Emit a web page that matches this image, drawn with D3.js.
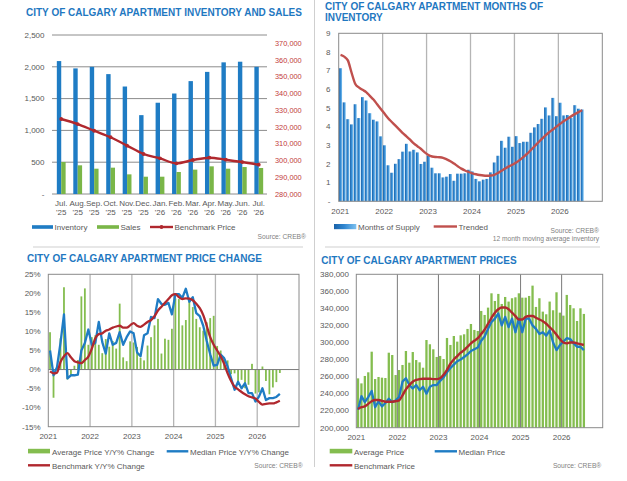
<!DOCTYPE html>
<html><head><meta charset="utf-8">
<script src="https://cdn.jsdelivr.net/npm/d3@7"></script>
<style>body{margin:0;background:#fff;} svg{display:block;font-family:"Liberation Sans",Arial,sans-serif;}</style>
</head><body><svg id="c" width="627" height="481"></svg>
<script>
// ---------- Panel 1: inventory and sales ----------
const invCategories = ["Jul. '25","Aug. '25","Sep. '25","Oct. '25","Nov. '25","Dec. '25","Jan. '26","Feb. '26","Mar. '26","Apr. '26","May. '26","Jun. '26","Jul. '26"];
const inventory = [2090,1975,2000,1885,1690,1240,1435,1580,1775,1920,2070,2080,2000];
const sales = [503,451,398,414,309,272,272,346,383,435,398,424,409];
const benchmarkPrice = [324800,321800,317800,313900,308900,303900,301300,298300,300300,301700,300500,299100,297500];
const invLeftTicks = [0,500,1000,1500,2000,2500];
const invRightTicks = [280000,290000,300000,310000,320000,330000,340000,350000,360000,370000];

// ---------- Panel 2: months of supply (monthly Jan 2021 - Jul 2026) ----------
const yearLabels = ["2021","2022","2023","2024","2025","2026"];
const monthsOfSupply = [
 7.13,5.30,4.40,4.12,5.20,4.46,5.58,5.40,4.72,4.37,4.28,3.48,
 3.00,1.93,1.53,2.01,2.26,2.66,3.08,2.67,2.76,2.62,2.00,2.12,
 2.44,1.80,1.50,1.50,1.28,1.32,1.46,1.10,1.48,1.48,1.50,1.69,
 1.60,1.20,1.07,1.16,1.20,1.55,2.08,2.44,3.24,2.87,3.46,2.92,
 3.49,3.12,3.19,3.19,3.67,3.96,4.14,4.42,5.03,4.60,5.54,4.56,
 5.28,4.60,4.62,4.46,5.15,4.96,4.92];
const trended = [
 7.84,7.75,7.55,6.90,6.30,6.10,5.97,5.85,5.65,5.45,5.20,4.95,
 4.70,4.45,4.25,4.05,3.85,3.65,3.48,3.30,3.10,2.95,2.80,2.62,
 2.48,2.40,2.37,2.36,2.33,2.25,2.15,2.02,1.88,1.75,1.65,1.57,
 1.50,1.45,1.41,1.38,1.37,1.38,1.42,1.52,1.64,1.76,1.87,1.97,
 2.08,2.22,2.38,2.55,2.75,2.95,3.15,3.35,3.53,3.70,3.85,4.00,
 4.15,4.30,4.42,4.55,4.67,4.78,4.88];
const supplyTicks = [0,1,2,3,4,5,6,7,8,9];

// ---------- Panel 3: price change Y/Y % ----------
const avgYoY = [
 9.8,-7.4,0.5,8.2,21.6,-2.6,-1.5,1.0,2.5,19.2,21.3,6.5,
 8.5,9.0,6.5,4.3,8.0,6.0,7.5,5.5,17.3,3.2,2.2,7.4,
 7.1,5.9,3.1,2.4,6.3,8.5,11.6,13.3,4.2,8.1,7.8,10.7,
 18.7,18.5,11.6,13.0,17.8,16.4,13.3,11.1,10.2,12.4,13.5,14.1,
 6.2,5.0,3.0,2.4,-1.2,-1.0,-3.2,-2.7,-4.9,-4.0,1.5,-6.3,
 -6.0,0.8,-3.0,-6.5,-4.7,-3.3,-0.9];
const medianYoY = [
 5.0,-1.5,0.6,7.0,14.5,-2.3,-1.5,-1.5,-1.3,5.0,7.0,10.5,
 6.5,7.0,12.5,7.2,4.2,9.5,6.5,7.0,9.8,6.5,8.5,10.0,
 9.5,4.5,3.5,9.0,9.5,13.8,13.5,18.5,17.2,17.0,17.5,14.5,
 19.8,19.8,18.8,21.2,17.8,19.0,14.8,14.0,11.5,7.5,4.0,1.0,
 1.2,3.9,3.0,0.8,-2.3,-5.3,-3.2,-4.9,-3.6,-6.2,-6.2,-8.4,
 -7.1,-4.9,-8.0,-7.5,-7.5,-7.2,-6.4];
const benchmarkYoY = [
 -0.5,-1.0,-0.8,2.0,3.5,4.3,3.2,2.2,1.9,1.7,2.5,3.4,
 5.5,8.2,9.3,9.5,10.2,10.5,11.0,11.3,11.5,11.0,11.0,11.6,
 12.2,11.5,11.2,11.8,12.5,13.0,14.0,15.5,16.5,17.5,18.5,19.5,
 19.8,19.0,18.5,18.7,18.6,18.2,17.3,16.1,14.3,11.5,8.5,6.5,
 5.0,3.5,1.5,-1.0,-3.0,-4.5,-5.2,-5.9,-6.5,-7.0,-7.3,-7.6,
 -8.5,-9.2,-9.0,-8.9,-8.9,-8.6,-8.2];
const pctTicks = [-15,-10,-5,0,5,10,15,20,25];

// ---------- Panel 4: prices ----------
const avgPrice = [
 257900,252000,260700,265000,289200,257100,259500,258700,258300,288000,285300,261800,
 267700,273600,290000,276300,288800,279400,276700,270400,302900,297900,292000,283000,
 284200,280600,305300,297100,307600,301000,308400,309600,315900,321700,314700,313500,
 337000,332300,340900,357700,348700,357000,345200,353400,348000,351900,353000,357700,
 352600,352600,354600,366700,341700,351900,336200,333100,348000,337800,358900,335000,
 331500,355800,344000,340100,325200,340100,333500];
const medianPrice = [
 221000,237000,230000,236000,243000,224000,231000,225000,229000,234000,230000,232000,
 236000,254000,258000,250000,246000,250000,244000,248000,240000,248000,250000,250000,
 255000,259000,265000,270000,274000,278000,280000,283000,286000,290000,292000,294000,
 302000,307000,316000,324000,328000,334000,320000,330000,318000,328000,312000,328000,
 312000,328000,328000,320000,316000,310000,312000,308000,314000,300000,291000,297000,
 301000,305000,304000,299000,295000,295000,291000];
const benchmarkPriceMonthly = [
 222000,224000,225000,228000,231000,232500,232500,231500,230500,230500,230500,231000,
 232000,238000,245000,250000,254000,256000,257000,257500,257500,257500,257000,257000,
 258000,262000,268000,275000,280000,284000,288000,291000,295000,299000,302000,305000,
 310000,315000,322000,329000,335000,339000,341000,341000,339000,335000,331000,327000,
 327000,330000,331000,331000,329000,327000,325000,322000,318000,314000,309000,304000,
 300000,299000,300000,300000,299000,298000,297000];
const priceTicks = [200000,220000,240000,260000,280000,300000,320000,340000,360000,380000];

// ---------- styling ----------
const TITLE = "#1f78c1", TICK = "#595959", BOX = "#8a8a8a", VGRID = "#b5b5b5";
const BLUE = "#1f7cc4", GREEN = "#84bd4f", DRED = "#b0282e", TRED = "#c0504d", RAXIS = "#c23b3b";
const fmt = d3.format(",");

const svg = d3.select("#c");
const defs = svg.append("defs");
const grad = defs.append("linearGradient").attr("id","blueGrad").attr("x1","0").attr("x2","1").attr("y1","0").attr("y2","0");
grad.append("stop").attr("offset","0").attr("stop-color","#1a62a8");
grad.append("stop").attr("offset","0.45").attr("stop-color","#2f86d0");
grad.append("stop").attr("offset","1").attr("stop-color","#7fc2f0");

function txt(g, x, y, s, o = {}) {
  return g.append("text").attr("x", x).attr("y", y).text(s)
    .attr("font-size", o.size || 8).attr("fill", o.fill || TICK)
    .attr("text-anchor", o.anchor || "start")
    .attr("font-weight", o.weight || "normal");
}
function title(x, y, s) { txt(svg, x, y, s, {size: 10, fill: TITLE, weight: "bold"}); }

// separators
svg.append("line").attr("x1",314.5).attr("x2",314.5).attr("y1",0).attr("y2",467).attr("stroke","#cfcfcf").attr("stroke-width",1);
svg.append("line").attr("x1",33).attr("x2",303).attr("y1",247).attr("y2",247).attr("stroke","#cfcfcf");
svg.append("line").attr("x1",325).attr("x2",600).attr("y1",247).attr("y2",247).attr("stroke","#cfcfcf");

// ================= Panel 1 =================
(function(){
  const g = svg.append("g");
  title(26, 16, "CITY OF CALGARY APARTMENT INVENTORY AND SALES");
  const x = d3.scaleBand().domain(invCategories).range([53, 267]);
  const bw = x.bandwidth();
  const yL = d3.scaleLinear().domain([0, 2500]).range([194, 35]);
  const yR = d3.scaleLinear().domain([280000, 375000]).range([194, 35]);
  invLeftTicks.forEach(v => {
    g.append("line").attr("x1",52).attr("x2",267).attr("y1",yL(v)).attr("y2",yL(v)).attr("stroke","#8c8c8c").attr("stroke-width",1);
    txt(g, 44.5, yL(v)+2.8, v === 0 ? "-" : fmt(v), {anchor:"end"});
  });
  invRightTicks.forEach(v => txt(g, 275, yR(v)+2.6, fmt(v), {fill: RAXIS, size: 7.4}));
  const bwid = 4.4;
  g.selectAll(".inv").data(invCategories).join("rect")
    .attr("x", c => x(c) + bw/2 - bwid).attr("width", bwid)
    .attr("y", (c,i) => yL(inventory[i])).attr("height", (c,i) => yL(0) - yL(inventory[i]))
    .attr("fill", BLUE);
  g.selectAll(".sal").data(invCategories).join("rect")
    .attr("x", c => x(c) + bw/2).attr("width", bwid)
    .attr("y", (c,i) => yL(sales[i])).attr("height", (c,i) => yL(0) - yL(sales[i]))
    .attr("fill", "#7ab648");
  const line = d3.line().x((d,i) => x(invCategories[i]) + bw/2).y(d => yR(d)).curve(d3.curveMonotoneX);
  g.append("path").attr("d", line(benchmarkPrice)).attr("fill","none").attr("stroke",DRED).attr("stroke-width",2.4);
  g.selectAll(".mk").data(benchmarkPrice).join("circle")
    .attr("cx", (d,i) => x(invCategories[i]) + bw/2).attr("cy", d => yR(d)).attr("r", 1.9).attr("fill", DRED);
  invCategories.forEach(c => {
    const [a, b] = c.split(" ");
    txt(g, x(c) + bw/2, 205.5, a, {anchor:"middle"});
    txt(g, x(c) + bw/2, 215, b, {anchor:"middle"});
  });
  // legend
  g.append("rect").attr("x",32).attr("y",225.2).attr("width",21).attr("height",3.6).attr("fill",BLUE);
  txt(g, 54.5, 229.5, "Inventory");
  g.append("rect").attr("x",97).attr("y",225.2).attr("width",22).attr("height",3.6).attr("fill","#7ab648");
  txt(g, 120.5, 229.5, "Sales");
  g.append("line").attr("x1",150).attr("x2",173).attr("y1",227).attr("y2",227).attr("stroke",DRED).attr("stroke-width",2.4);
  g.append("circle").attr("cx",161.5).attr("cy",227).attr("r",1.9).attr("fill",DRED);
  txt(g, 174.5, 229.5, "Benchmark Price");
  txt(g, 306, 239, "Source: CREB®", {anchor:"end", size: 6.7, fill:"#7f7f7f"});
})();

// ================= Panel 2 =================
(function(){
  const g = svg.append("g");
  title(325, 10, "CITY OF CALGARY APARTMENT MONTHS OF");
  title(325, 20.7, "INVENTORY");
  const x = d3.scaleLinear().domain([0, 72]).range([338.7, 602.3]);
  const y = d3.scaleLinear().domain([0, 9]).range([201.3, 33.3]);
  const step = x(1) - x(0);
  yearLabels.forEach((s, k) => {
    if (k > 0) g.append("line").attr("x1",x(k*12)).attr("x2",x(k*12)).attr("y1",33.3).attr("y2",201.3).attr("stroke",VGRID).attr("stroke-width",1.3);
    txt(g, x(k*12) + 1.5, 214, s, {anchor:"middle"});
  });
  supplyTicks.forEach(v => txt(g, 330.5, y(v)+2.8, v === 0 ? "-" : String(v), {anchor:"end"}));
  g.selectAll(".bar").data(monthsOfSupply).join("rect")
    .attr("x", (d,i) => x(i) + 0.35).attr("width", step*0.82)
    .attr("y", d => y(d)).attr("height", d => y(0) - y(d))
    .attr("fill", "url(#blueGrad)");
  const line = d3.line().x((d,i) => x(i) + step/2).y(d => y(d)).curve(d3.curveMonotoneX);
  g.append("path").attr("d", line(trended)).attr("fill","none").attr("stroke",TRED).attr("stroke-width",2.4);
  g.append("rect").attr("x",338.7).attr("y",33.3).attr("width",602.3-338.7).attr("height",201.3-33.3)
    .attr("fill","none").attr("stroke",BOX).attr("stroke-width",1);
  // legend
  g.append("rect").attr("x",334).attr("y",224).attr("width",22.3).attr("height",5.2).attr("fill","url(#blueGrad)");
  txt(g, 358, 229.5, "Months of Supply");
  g.append("line").attr("x1",433.7).attr("x2",457).attr("y1",226.5).attr("y2",226.5).attr("stroke",TRED).attr("stroke-width",2.4);
  txt(g, 458.5, 229.5, "Trended");
  txt(g, 599, 232.7, "Source: CREB®", {anchor:"end", size: 6.7, fill:"#7f7f7f"});
  txt(g, 599, 241.3, "12 month moving average inventory", {anchor:"end", size: 6.7, fill:"#7f7f7f"});
})();

// ================= Panel 3 =================
(function(){
  const g = svg.append("g");
  title(27, 262.3, "CITY OF CALGARY APARTMENT PRICE CHANGE");
  const x = d3.scaleLinear().domain([0, 72]).range([48.3, 299]);
  const y = d3.scaleLinear().domain([-15, 25]).range([426.7, 274.3]);
  const step = x(1) - x(0);
  yearLabels.forEach((s, k) => {
    if (k > 0) g.append("line").attr("x1",x(k*12)).attr("x2",x(k*12)).attr("y1",274.3).attr("y2",426.7).attr("stroke",VGRID).attr("stroke-width",1.3);
    txt(g, x(k*12), 439, s, {anchor:"middle"});
  });
  pctTicks.forEach(v => txt(g, 40.7, y(v)+2.8, v + "%", {anchor:"end"}));
  g.selectAll(".bar").data(avgYoY).join("rect")
    .attr("x", (d,i) => x(i + 0.5) - 0.9).attr("width", 1.8)
    .attr("y", d => Math.min(y(d), y(0))).attr("height", d => Math.abs(y(d) - y(0)))
    .attr("fill", GREEN);
  g.append("line").attr("x1",48.3).attr("x2",299).attr("y1",y(0)).attr("y2",y(0)).attr("stroke","#7a7a7a").attr("stroke-width",1);
  const line = d3.line().x((d,i) => x(i + 0.5)).y(d => y(d));
  g.append("path").attr("d", line(medianYoY)).attr("fill","none").attr("stroke",BLUE).attr("stroke-width",2.3).attr("stroke-linejoin","round");
  g.append("path").attr("d", line.curve(d3.curveMonotoneX)(benchmarkYoY)).attr("fill","none").attr("stroke",DRED).attr("stroke-width",2.3);
  g.append("rect").attr("x",48.3).attr("y",274.3).attr("width",299-48.3).attr("height",426.7-274.3)
    .attr("fill","none").attr("stroke",BOX).attr("stroke-width",1);
  // legend
  g.append("rect").attr("x",28).attr("y",448.8).attr("width",22).attr("height",4.6).attr("fill",GREEN);
  txt(g, 52, 455, "Average Price Y/Y% Change");
  g.append("line").attr("x1",166.7).attr("x2",188.3).attr("y1",451.3).attr("y2",451.3).attr("stroke",BLUE).attr("stroke-width",2.4);
  txt(g, 190, 455, "Median Price Y/Y% Change");
  g.append("line").attr("x1",28).attr("x2",50).attr("y1",465.3).attr("y2",465.3).attr("stroke",DRED).attr("stroke-width",2.4);
  txt(g, 52, 469, "Benchmark Y/Y% Change");
  txt(g, 302.7, 467.5, "Source: CREB®", {anchor:"end", size: 6.7, fill:"#7f7f7f"});
})();

// ================= Panel 4 =================
(function(){
  const g = svg.append("g");
  title(321.3, 263.7, "CITY OF CALGARY APARTMENT PRICES");
  const x = d3.scaleLinear().domain([0, 72]).range([356.3, 602.7]);
  const y = d3.scaleLinear().domain([200000, 380000]).range([427.7, 274.3]);
  yearLabels.forEach((s, k) => {
    if (k > 0) g.append("line").attr("x1",x(k*12)).attr("x2",x(k*12)).attr("y1",274.3).attr("y2",427.7).attr("stroke","#7a7a7a").attr("stroke-width",1);
    txt(g, x(k*12), 440, s, {anchor:"middle"});
  });
  priceTicks.forEach(v => txt(g, 349, y(v)+2.8, fmt(v), {anchor:"end"}));
  g.selectAll(".bar").data(avgPrice).join("rect")
    .attr("x", (d,i) => x(i + 0.5) - 1.15).attr("width", 2.3)
    .attr("y", d => y(d)).attr("height", d => y(200000) - y(d))
    .attr("fill", GREEN);
  const line = d3.line().x((d,i) => x(i + 0.5)).y(d => y(d));
  g.append("path").attr("d", line(medianPrice)).attr("fill","none").attr("stroke",BLUE).attr("stroke-width",2.3).attr("stroke-linejoin","round");
  g.append("path").attr("d", line.curve(d3.curveMonotoneX)(benchmarkPriceMonthly)).attr("fill","none").attr("stroke",DRED).attr("stroke-width",2.4);
  g.append("rect").attr("x",356.3).attr("y",274.3).attr("width",602.7-356.3).attr("height",427.7-274.3)
    .attr("fill","none").attr("stroke",BOX).attr("stroke-width",1);
  // legend
  g.append("rect").attr("x",329.7).attr("y",448.8).attr("width",22.6).attr("height",4.6).attr("fill",GREEN);
  txt(g, 354, 455, "Average Price");
  g.append("line").attr("x1",434.7).attr("x2",457).attr("y1",451.3).attr("y2",451.3).attr("stroke",BLUE).attr("stroke-width",2.4);
  txt(g, 458.5, 455, "Median Price");
  g.append("line").attr("x1",329.7).attr("x2",352.3).attr("y1",465.3).attr("y2",465.3).attr("stroke",DRED).attr("stroke-width",2.4);
  txt(g, 354, 469, "Benchmark Price");
  txt(g, 601.3, 467.5, "Source: CREB®", {anchor:"end", size: 6.7, fill:"#7f7f7f"});
})();
</script>
</body></html>
